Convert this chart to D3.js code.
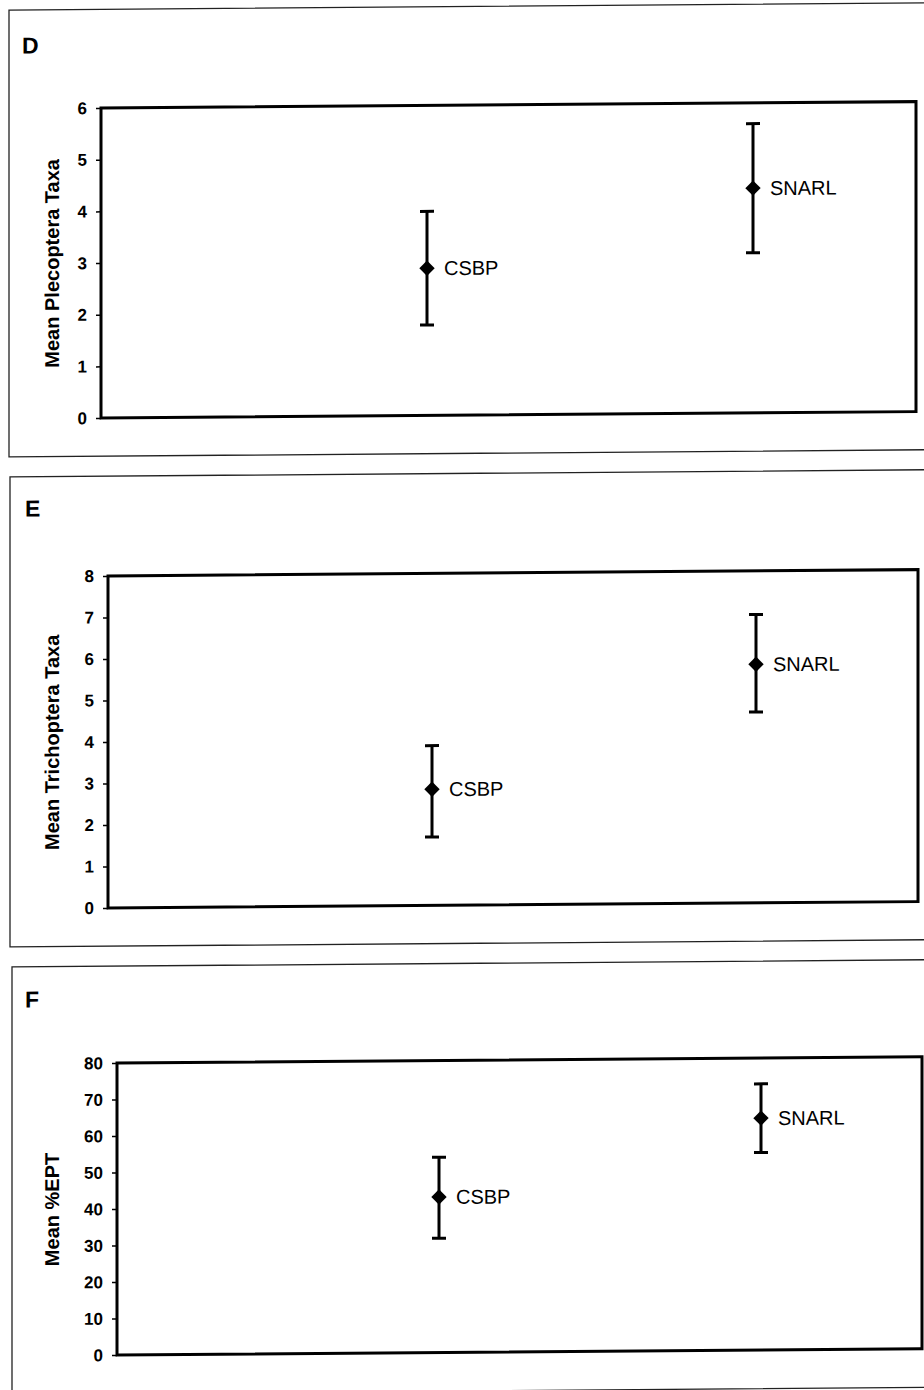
<!DOCTYPE html>
<html>
<head>
<meta charset="utf-8">
<script src="https://cdn.jsdelivr.net/npm/d3@7"></script>
<style>
	body { margin: 0; background: #fff; }
	svg { display: block; font-family: "Liberation Sans", Arial, sans-serif; }
	.frame { fill: none; stroke: #222; stroke-width: 1.3; }
	.plotbox { fill: none; stroke: #000; stroke-width: 3; }
	.axis path { display: none; }
	.axis line { stroke: #000; stroke-width: 1.5; }
	.axis text { font-size: 17px; font-weight: bold; fill: #000; }
	.ytitle { font-size: 20px; font-weight: bold; }
	.letter { font-size: 23px; font-weight: bold; }
	.bar { stroke: #000; stroke-width: 3; }
	.site { font-size: 20px; }
</style>
</head>
<body>
<svg></svg>
<script>
const sites = ["CSBP", "SNARL"];
const sitePos = [2, 4];

const plecMean = [2.85, 4.35];
const plecLow = [1.75, 3.1];
const plecHigh = [3.95, 5.6];

const trichMean = [2.8, 5.75];
const trichLow = [1.65, 4.6];
const trichHigh = [3.85, 6.95];

const eptMean = [42.6, 63.5];
const eptLow = [31.3, 54.1];
const eptHigh = [53.5, 72.9];

const plecTicks = [0, 1, 2, 3, 4, 5, 6];
const trichTicks = [0, 1, 2, 3, 4, 5, 6, 7, 8];
const eptTicks = [0, 10, 20, 30, 40, 50, 60, 70, 80];

const panels = [
	{ letter: "D", title: "Mean Plecoptera Taxa", mean: plecMean, low: plecLow, high: plecHigh, ticks: plecTicks,
		frame: [9, 6.5, 960, 453.4], plot: [101, 916, 105.2, 415.2], letterXY: [22, 50] },
	{ letter: "E", title: "Mean Trichoptera Taxa", mean: trichMean, low: trichLow, high: trichHigh, ticks: trichTicks,
		frame: [10, 473.4, 960, 943.4], plot: [108, 918, 573.2, 905.2], letterXY: [25, 513] },
	{ letter: "F", title: "Mean %EPT", mean: eptMean, low: eptLow, high: eptHigh, ticks: eptTicks,
		frame: [12, 963.4, 960, 1391], plot: [117, 922, 1060.3, 1352.3], letterXY: [25, 1004] }
];

const svg = d3.select("svg").attr("width", 924).attr("height", 1390);

// slight tilt like the scanned page
const page = svg.append("g").attr("transform", "translate(0, 3.63) skewY(-0.45)");

const diamond = d3.symbol().type(d3.symbolDiamond2).size(150);

panels.forEach((p) => {
	const [fx0, fy0, fx1, fy1] = p.frame;
	const [l, r, t, b] = p.plot;

	page.append("rect")
		.attr("class", "frame")
		.attr("x", fx0)
		.attr("y", fy0)
		.attr("width", fx1 - fx0)
		.attr("height", fy1 - fy0);

	page.append("text")
		.attr("class", "letter")
		.attr("x", p.letterXY[0])
		.attr("y", p.letterXY[1])
		.text(p.letter);

	const x = d3.scaleLinear().domain([0, 5]).range([l, r]);
	const y = d3.scaleLinear().domain(d3.extent(p.ticks)).range([b, t]);

	page.append("g")
		.attr("class", "axis")
		.attr("transform", `translate(${l}, 0)`)
		.call(d3.axisLeft(y).tickValues(p.ticks).tickFormat(d3.format("d")).tickSize(5).tickPadding(9));

	page.append("rect")
		.attr("class", "plotbox")
		.attr("x", l)
		.attr("y", t)
		.attr("width", r - l)
		.attr("height", b - t);

	page.append("text")
		.attr("class", "ytitle")
		.attr("transform", `translate(52, ${(t + b) / 2}) rotate(-90)`)
		.attr("text-anchor", "middle")
		.attr("dy", "0.35em")
		.text(p.title);

	const rows = sites.map((s, i) => ({ site: s, pos: sitePos[i], mean: p.mean[i], low: p.low[i], high: p.high[i] }));

	const g = page.selectAll(null)
		.data(rows)
		.enter()
		.append("g")
		.attr("class", "point");

	g.append("line")
		.attr("class", "bar")
		.attr("x1", (d) => x(d.pos))
		.attr("x2", (d) => x(d.pos))
		.attr("y1", (d) => y(d.low))
		.attr("y2", (d) => y(d.high));

	["low", "high"].forEach((k) => {
		g.append("line")
			.attr("class", "bar")
			.attr("x1", (d) => x(d.pos) - 7)
			.attr("x2", (d) => x(d.pos) + 7)
			.attr("y1", (d) => y(d[k]))
			.attr("y2", (d) => y(d[k]));
	});

	g.append("path")
		.attr("d", diamond)
		.attr("transform", (d) => `translate(${x(d.pos)}, ${y(d.mean)})`)
		.attr("fill", "#000");

	g.append("text")
		.attr("class", "site")
		.attr("x", (d) => x(d.pos) + 17)
		.attr("y", (d) => y(d.mean))
		.attr("dy", "0.35em")
		.text((d) => d.site);
});
</script>
</body>
</html>
